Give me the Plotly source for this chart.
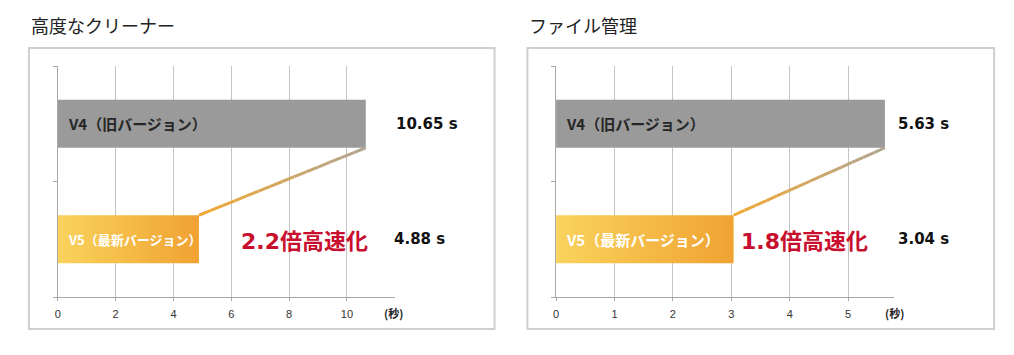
import plotly.graph_objects as go

# ---------------- data ----------------
panel_titles = ["高度なクリーナー", "ファイル管理"]
v4_label = "V4（旧バージョン）"
v5_label = "V5（最新バージョン）"
v4_times = [10.65, 5.63]
v5_times = [4.88, 3.04]
speedup_labels = ["2.2倍高速化", "1.8倍高速化"]
x_tick_vals = [[0, 2, 4, 6, 8, 10], [0, 1, 2, 3, 4, 5]]
x_tick_text = [["0", "2", "4", "6", "8", "10"], ["0", "1", "2", "3", "4", "5"]]
unit_label = "(秒)"

# ---------------- layout helpers ----------------
W, H = 1014, 355
def px(x):
    return x / W
def py(y):
    return 1 - y / H

x_domains = [[px(55), px(393)], [px(554.7), px(893.3)]]
x_ranges = [[0, 11.655], [0, 5.78]]
y_domain = [py(297), py(66)]
box_x = [(26, 493), (526, 994)]
title_x = [26, 526]
value_px = [[392, 390], [896, 896]]   # pixel x where value labels start (V4, V5)
speed_x = [8.52, 4.25]       # centre of speed-up text (axis units)
unit_x = [380, 882.7]        # pixel position of unit label
Y_V4, Y_V5 = 1, 0
BW = 0.4156

CJK = "Noto Sans CJK JP"
NUM = "DejaVu Sans"

fig = go.Figure()
annotations = []
shapes = []

def lerp(c1, c2, t):
    return "rgb(%d,%d,%d)" % tuple(round(a + (b - a) * t) for a, b in zip(c1, c2))

for i in range(2):
    xa = "x" if i == 0 else "x2"
    ya = "y" if i == 0 else "y2"
    v4 = v4_times[i]
    v5 = v5_times[i]

    # V4 bar
    fig.add_trace(go.Bar(x=[v4], y=[Y_V4], orientation="h", width=BW,
                         marker=dict(color="#9a9a9a", line=dict(width=0)),
                         xaxis=xa, yaxis=ya, showlegend=False, hoverinfo="skip"))
    # V5 bar with gradient
    fig.add_trace(go.Scatter(x=[0, v5, v5, 0, 0],
                             y=[Y_V5 - BW / 2, Y_V5 - BW / 2, Y_V5 + BW / 2, Y_V5 + BW / 2, Y_V5 - BW / 2],
                             mode="lines", fill="toself", line=dict(width=0),
                             fillgradient=dict(type="horizontal",
                                               colorscale=[[0, "#f9d35c"], [1, "#f0a232"]]),
                             xaxis=xa, yaxis=ya, showlegend=False, hoverinfo="skip"))
    # connector line (gradient approximated with segments)
    n = 14
    c_top = (176, 166, 148)
    c_bot = (242, 168, 50)
    for k in range(n):
        t0, t1 = k / n, (k + 1) / n
        xs = [v4 + (v5 - v4) * t0, v4 + (v5 - v4) * t1]
        ys = [(Y_V4 - BW / 2) + ((Y_V5 + BW / 2) - (Y_V4 - BW / 2)) * t0,
              (Y_V4 - BW / 2) + ((Y_V5 + BW / 2) - (Y_V4 - BW / 2)) * t1]
        fig.add_trace(go.Scatter(x=xs, y=ys, mode="lines",
                                 line=dict(color=lerp(c_top, c_bot, (t0 + t1) / 2), width=3),
                                 xaxis=xa, yaxis=ya, showlegend=False, hoverinfo="skip"))

    # bar labels
    annotations.append(dict(x=0, y=Y_V4, xref=xa, yref=ya, xanchor="left", yanchor="middle",
                            xshift=8, text="<b>" + v4_label + "</b>", showarrow=False,
                            font=dict(family=CJK, size=15, color="#262626")))
    annotations.append(dict(x=0, y=Y_V5, xref=xa, yref=ya, xanchor="left", yanchor="middle",
                            xshift=8, text="<b>" + v5_label + "</b>", showarrow=False,
                            font=dict(family=CJK, size=13 if i == 0 else 15, color="#ffffff")))
    # value labels
    annotations.append(dict(x=px(value_px[i][0]), y=Y_V4, xref="paper", yref=ya,
                            xanchor="left", yanchor="middle",
                            text="<b>%.2f s</b>" % v4, showarrow=False,
                            font=dict(family=NUM, size=15, color="#111111")))
    annotations.append(dict(x=px(value_px[i][1]), y=Y_V5, xref="paper", yref=ya,
                            xanchor="left", yanchor="middle",
                            text="<b>%.2f s</b>" % v5, showarrow=False,
                            font=dict(family=NUM, size=15, color="#111111")))
    # speed-up label
    annotations.append(dict(x=speed_x[i], y=Y_V5, xref=xa, yref=ya, xanchor="center", yanchor="middle",
                            yshift=-2, text="<b>" + speedup_labels[i] + "</b>", showarrow=False,
                            font=dict(family=NUM + ", " + CJK, size=22, color="#c8102e")))
    # unit label
    annotations.append(dict(x=px(unit_x[i]), y=py(313), xref="paper", yref="paper",
                            xanchor="left", yanchor="middle", text="<b>" + unit_label + "</b>",
                            showarrow=False, font=dict(family=CJK, size=11, color="#222222")))
    # panel title
    annotations.append(dict(x=px(title_x[i]), y=py(25), xref="paper", yref="paper",
                            xanchor="left", yanchor="middle", text=panel_titles[i],
                            showarrow=False, font=dict(family=CJK, size=18, color="#222222")))
    # frame
    shapes.append(dict(type="rect", xref="paper", yref="paper",
                       x0=px(box_x[i][0]), x1=px(box_x[i][1]), y0=py(329), y1=py(48),
                       line=dict(color="#cfcfcf", width=2), fillcolor="rgba(0,0,0,0)", layer="below"))

def xaxis_cfg(i):
    return dict(domain=x_domains[i], range=x_ranges[i], tickvals=x_tick_vals[i],
                ticktext=x_tick_text[i], showgrid=True, gridcolor="#c4c4c4", gridwidth=1,
                zeroline=False, showline=True, linecolor="#a8a8a8", linewidth=1,
                ticks="outside", ticklen=3, tickcolor="#a8a8a8", ticklabelstandoff=4,
                tickfont=dict(family="Liberation Sans", size=11, color="#333333"),
                fixedrange=True)

def yaxis_cfg(i, anchor):
    return dict(domain=y_domain, range=[-0.5, 1.5], tickvals=[-0.5, 0.5, 1.5],
                ticktext=["", "", ""], showgrid=False, zeroline=False, showline=True,
                linecolor="#a8a8a8", linewidth=1, ticks="outside", ticklen=4,
                tickcolor="#a8a8a8", anchor=anchor, fixedrange=True)

fig.update_layout(
    width=W, height=H, autosize=False,
    margin=dict(l=0, r=0, t=0, b=0),
    paper_bgcolor="white", plot_bgcolor="rgba(0,0,0,0)",
    barmode="overlay",
    xaxis=dict(xaxis_cfg(0), anchor="y"),
    yaxis=yaxis_cfg(0, "x"),
    xaxis2=dict(xaxis_cfg(1), anchor="y2"),
    yaxis2=yaxis_cfg(1, "x2"),
    annotations=annotations,
    shapes=shapes,
    showlegend=False,
)

fig.write_html("out.html")
